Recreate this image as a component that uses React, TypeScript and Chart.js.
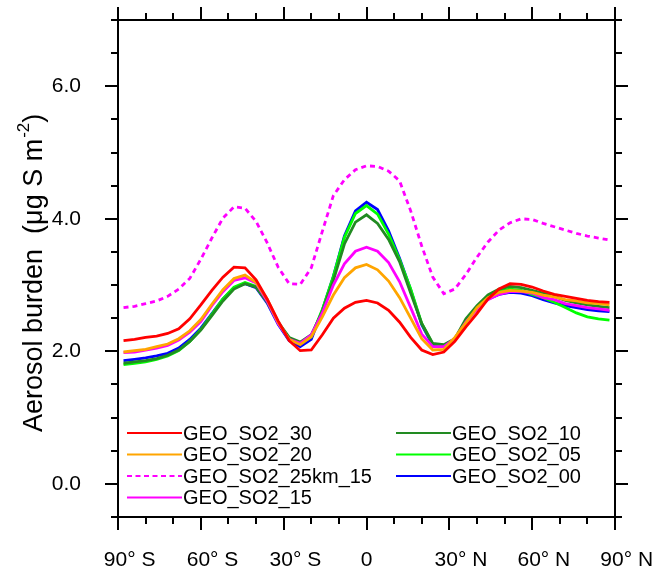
import React, { useEffect, useRef } from "react";
import { Chart, registerables } from "chart.js";

Chart.register(...registerables);

// Latitude centres (degrees, S negative)
const LATITUDES = [
  -88, -84, -80, -76, -72, -68, -64, -60, -56, -52, -48, -44, -40, -36, -32, -28, -24, -20, -16, -12, -8, -4,
  0, 4, 8, 12, 16, 20, 24, 28, 32, 36, 40, 44, 48, 52, 56, 60, 64, 68, 72, 76, 80, 84, 88,
];

const GEO_SO2_30 = [
  2.16, 2.18, 2.21, 2.23, 2.27, 2.34, 2.49, 2.70, 2.92, 3.12, 3.27, 3.26, 3.08, 2.79, 2.46, 2.16, 2.01, 2.02, 2.25, 2.50, 2.65, 2.74,
  2.77, 2.73, 2.62, 2.44, 2.21, 2.02, 1.95, 1.99, 2.15, 2.37, 2.57, 2.79, 2.94, 3.02, 3.01, 2.97, 2.91, 2.86, 2.83, 2.80, 2.77, 2.75, 2.74,
];
const GEO_SO2_20 = [
  1.99, 2.01, 2.03, 2.07, 2.11, 2.19, 2.31, 2.48, 2.71, 2.93, 3.10, 3.15, 3.04, 2.79, 2.44, 2.18, 2.10, 2.22, 2.52, 2.85, 3.11, 3.26,
  3.31, 3.23, 3.06, 2.81, 2.50, 2.19, 2.02, 2.03, 2.21, 2.43, 2.66, 2.81, 2.89, 2.92, 2.91, 2.89, 2.85, 2.82, 2.78, 2.76, 2.73, 2.72, 2.70,
];
const GEO_SO2_25KM_15 = [
  2.66, 2.68, 2.72, 2.76, 2.83, 2.94, 3.10, 3.39, 3.71, 4.01, 4.18, 4.16, 3.96, 3.64, 3.27, 3.02, 3.01, 3.26, 3.81, 4.35, 4.59, 4.74,
  4.80, 4.79, 4.72, 4.57, 4.12, 3.59, 3.12, 2.87, 2.94, 3.16, 3.42, 3.65, 3.83, 3.94, 4.00, 3.99, 3.93, 3.88, 3.83, 3.78, 3.74, 3.71, 3.68,
];
const GEO_SO2_15 = [
  1.98, 1.99, 2.02, 2.05, 2.09, 2.17, 2.29, 2.45, 2.69, 2.90, 3.07, 3.11, 3.03, 2.76, 2.42, 2.18, 2.12, 2.25, 2.58, 3.00, 3.32, 3.51,
  3.57, 3.51, 3.34, 3.05, 2.66, 2.26, 2.07, 2.07, 2.19, 2.44, 2.63, 2.78, 2.86, 2.90, 2.90, 2.88, 2.81, 2.78, 2.72, 2.69, 2.66, 2.64, 2.62,
];
const GEO_SO2_10 = [
  1.82, 1.84, 1.86, 1.89, 1.94, 2.02, 2.15, 2.32, 2.54, 2.76, 2.94, 3.02, 2.97, 2.75, 2.44, 2.21, 2.14, 2.25, 2.60, 3.07, 3.62, 3.95,
  4.06, 3.93, 3.69, 3.35, 2.88, 2.42, 2.12, 2.10, 2.19, 2.49, 2.69, 2.85, 2.94, 2.98, 2.96, 2.92, 2.88, 2.83, 2.77, 2.73, 2.70, 2.68, 2.66,
];
const GEO_SO2_05 = [
  1.80, 1.82, 1.84, 1.88, 1.93, 2.01, 2.15, 2.33, 2.56, 2.79, 2.97, 3.04, 2.98, 2.75, 2.43, 2.19, 2.12, 2.22, 2.63, 3.13, 3.72, 4.08,
  4.20, 4.07, 3.77, 3.38, 2.94, 2.42, 2.11, 2.09, 2.18, 2.47, 2.67, 2.83, 2.91, 2.94, 2.92, 2.86, 2.81, 2.74, 2.66, 2.58, 2.52, 2.49, 2.47,
];
const GEO_SO2_00 = [
  1.86, 1.88, 1.90, 1.93, 1.97, 2.05, 2.18, 2.35, 2.57, 2.79, 2.96, 3.02, 2.96, 2.73, 2.41, 2.16, 2.07, 2.18, 2.62, 3.13, 3.74, 4.12,
  4.25, 4.14, 3.82, 3.40, 2.93, 2.40, 2.09, 2.07, 2.17, 2.45, 2.64, 2.79, 2.86, 2.89, 2.88, 2.84, 2.78, 2.73, 2.69, 2.66, 2.63, 2.61, 2.60,
];

const SERIES_LABELS = [
  "GEO_SO2_30",
  "GEO_SO2_20",
  "GEO_SO2_25km_15",
  "GEO_SO2_15",
  "GEO_SO2_10",
  "GEO_SO2_05",
  "GEO_SO2_00",
];
const SERIES_VALUES = [GEO_SO2_30, GEO_SO2_20, GEO_SO2_25KM_15, GEO_SO2_15, GEO_SO2_10, GEO_SO2_05, GEO_SO2_00];
const SERIES_COLORS = ["#ff0000", "#ffa500", "#ff00ff", "#ff00ff", "#228b22", "#00ff00", "#0000ff"];
const SERIES_DASHED = [false, false, true, false, false, false, false];

const X_MAJOR = [-90, -60, -30, 0, 30, 60, 90];
const X_LABELS = ["90° S", "60° S", "30° S", "0", "30° N", "60° N", "90° N"];
const X_MINOR = [-80, -70, -50, -40, -20, -10, 10, 20, 40, 50, 70, 80];
const Y_MAJOR = [0, 2, 4, 6];
const Y_LABELS = ["0.0", "2.0", "4.0", "6.0"];
const Y_MINOR = [-0.5, 0.5, 1, 1.5, 2.5, 3, 3.5, 4.5, 5, 5.5, 6.5, 7];

const FONT = "'Liberation Sans', Arial, Helvetica, sans-serif";

const framePlugin = {
  id: "ncl-frame",
  afterDraw(chart: any) {
    const { ctx, chartArea: a, scales } = chart;
    const xs = scales.x;
    const ys = scales.y;
    ctx.save();
    ctx.strokeStyle = "#000";
    ctx.lineWidth = 2;
    ctx.strokeRect(a.left, a.top, a.right - a.left, a.bottom - a.top);
    const seg = (x1: number, y1: number, x2: number, y2: number) => {
      ctx.beginPath();
      ctx.moveTo(x1, y1);
      ctx.lineTo(x2, y2);
      ctx.stroke();
    };
    const xt = (vals: number[], len: number) =>
      vals.forEach((v) => {
        const p = Math.round(xs.getPixelForValue(v));
        seg(p, a.bottom, p, a.bottom + len);
        seg(p, a.top, p, a.top - len);
      });
    const yt = (vals: number[], len: number) =>
      vals.forEach((v) => {
        const p = Math.round(ys.getPixelForValue(v));
        seg(a.left, p, a.left - len, p);
        seg(a.right, p, a.right + len, p);
      });
    xt(X_MAJOR, 13);
    xt(X_MINOR, 7);
    yt(Y_MAJOR, 13);
    yt(Y_MINOR, 7);

    // legend (two columns, inside plot)
    ctx.font = `20px ${FONT}`;
    ctx.textBaseline = "middle";
    ctx.textAlign = "left";
    ctx.fillStyle = "#000";
    const rowYs = [a.bottom - 84, a.bottom - 62.5, a.bottom - 41, a.bottom - 19.5];
    const colXs = [a.left + 9, a.left + 278];
    chart.data.datasets.forEach((ds: any, i: number) => {
      const col = i < 4 ? 0 : 1;
      const row = i < 4 ? i : i - 4;
      const x0 = colXs[col];
      const y0 = rowYs[row];
      ctx.save();
      ctx.strokeStyle = ds.borderColor;
      ctx.lineWidth = 2;
      ctx.setLineDash(SERIES_DASHED[i] ? [5, 3.5] : []);
      seg(x0, y0, x0 + 55, y0);
      ctx.restore();
      ctx.fillText(ds.label, x0 + 56, y0 + 1);
    });

    // y-axis title with superscript
    ctx.save();
    ctx.translate(42, 432);
    ctx.rotate(-Math.PI / 2);
    ctx.textBaseline = "alphabetic";
    ctx.textAlign = "left";
    ctx.font = `27px ${FONT}`;
    const main = "Aerosol burden  (\u03bcg S m";
    ctx.fillText(main, 0, 0);
    let w = ctx.measureText(main).width;
    ctx.font = `17px ${FONT}`;
    ctx.fillText("-2", w + 1, -13);
    w += ctx.measureText("-2").width + 1;
    ctx.font = `27px ${FONT}`;
    ctx.fillText(")", w, 0);
    ctx.restore();

    ctx.restore();
  },
};

export default function App() {
  const ref = useRef<HTMLCanvasElement>(null);
  useEffect(() => {
    const canvas = ref.current;
    if (!canvas) return;
    const chart = new Chart(canvas, {
      type: "line",
      data: {
        datasets: SERIES_VALUES.map((vals, i) => ({
          label: SERIES_LABELS[i],
          data: LATITUDES.map((lat, j) => ({ x: lat, y: vals[j] })),
          borderColor: SERIES_COLORS[i],
          backgroundColor: SERIES_COLORS[i],
          borderWidth: 2.8,
          borderDash: SERIES_DASHED[i] ? [5, 4] : [],
          pointRadius: 0,
          tension: 0,
          fill: false,
        })),
      },
      options: {
        responsive: false,
        animation: false,
        devicePixelRatio: 1,
        layout: { padding: { left: 0, top: 20, right: 41, bottom: 0 } },
        plugins: {
          legend: { display: false },
          tooltip: { enabled: false },
          title: { display: false },
        },
        scales: {
          x: {
            type: "linear",
            position: "bottom",
            min: -90,
            max: 90,
            grid: { display: false },
            border: { display: false },
            afterBuildTicks: (s: any) => {
              s.ticks = X_MAJOR.map((v) => ({ value: v }));
            },
            afterFit: (s: any) => {
              s.height = 51;
              s.paddingLeft = 0;
              s.paddingRight = 0;
              s.paddingTop = 0;
              s.paddingBottom = 0;
            },
            ticks: {
              autoSkip: false,
              maxRotation: 0,
              minRotation: 0,
              padding: 23,
              color: "#000",
              font: { family: FONT, size: 21 },
              callback: (v: any) => {
                const k = X_MAJOR.indexOf(Number(v));
                if (k < 0) return "";
                const lbl = X_LABELS[k];
                // degree labels sit slightly right of their tick, as in the original
                return lbl.includes("°") ? "    " + lbl : lbl;
              },
            },
          },
          y: {
            type: "linear",
            position: "left",
            min: -0.5,
            max: 7,
            grid: { display: false },
            border: { display: false },
            afterBuildTicks: (s: any) => {
              s.ticks = Y_MAJOR.map((v) => ({ value: v }));
            },
            afterFit: (s: any) => {
              s.width = 118;
              s.paddingLeft = 0;
              s.paddingRight = 0;
              s.paddingTop = 0;
              s.paddingBottom = 0;
            },
            ticks: {
              autoSkip: false,
              padding: 29,
              color: "#000",
              font: { family: FONT, size: 21 },
              callback: (v: any) => {
                const k = Y_MAJOR.indexOf(Number(v));
                return k >= 0 ? Y_LABELS[k] : "";
              },
            },
          },
        },
      },
      plugins: [framePlugin],
    });
    return () => chart.destroy();
  }, []);
  return (
    <div style={{ position: "absolute", left: 0, top: 0, width: 656, height: 568, background: "#fff" }}>
      <canvas ref={ref} width={656} height={568} style={{ display: "block" }} />
    </div>
  );
}
